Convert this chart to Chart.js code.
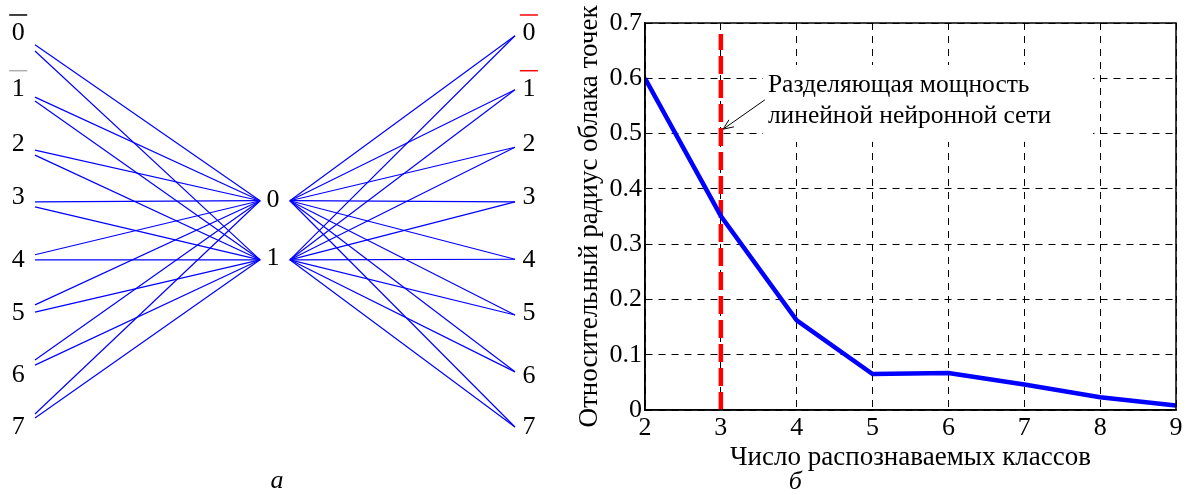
<!DOCTYPE html>
<html>
<head>
<meta charset="utf-8">
<script src="https://cdn.jsdelivr.net/npm/chart.js@4.4.0/dist/chart.umd.min.js"></script>
<style>
  html, body { margin: 0; padding: 0; background: #fff; }
  #wrap { position: relative; width: 1188px; height: 495px; overflow: hidden; }
  #netChart { position: absolute; left: 0; top: 0; }
  #radiusChart { position: absolute; left: 560px; top: 0; }
</style>
</head>
<body>
<div id="wrap">
  <canvas id="netChart" width="560" height="495"></canvas>
  <canvas id="radiusChart" width="628" height="495"></canvas>
</div>
<script>
// ---- panel a: network diagram (rows = node levels, columns 0 = inputs, 1 = outputs)
const inputLabels = ['0', '1', '2', '3', '4', '5', '6', '7'];
const hiddenLabels = ['0', '1'];
const outputLabels = ['0', '1', '2', '3', '4', '5', '6', '7'];
const inputLabelRows = [0, 0.99, 1.97, 2.91, 4.03, 4.97, 6.08, 7.0];
const outputLabelRows = [0, 0.99, 1.97, 2.91, 4.03, 4.97, 6.1, 7.0];
const hiddenLabelRows = [2.97, 4.0];
const inputRowsTo0 = [0.21, 1.14, 2.08, 3.0, 3.94, 4.83, 5.81, 6.77];
const inputRowsTo1 = [0.32, 1.21, 2.17, 3.09, 4.03, 4.96, 5.9, 6.84];
const hiddenRows = [2.98, 4.03];
const outputRows = [0.05, 1.01, 2.03, 3.0, 4.02, 5.01, 6.02, 7.0];
const inputCol = 0, hiddenInCol = 0.469, hiddenOutCol = 0.531, outputCol = 1;

// ---- panel b: cloud radius vs number of classes
const classCounts = [2, 3, 4, 5, 6, 7, 8, 9];
const cloudRadius = [0.6, 0.351, 0.162, 0.065, 0.067, 0.046, 0.023, 0.008];
const boundaryClass = 3;
const boundaryTop = 0.68;
const xTicks = [2, 3, 4, 5, 6, 7, 8, 9];
const yTicks = [0, 0.1, 0.2, 0.3, 0.4, 0.5, 0.6, 0.7];

const SERIF = '"Liberation Serif", "Times New Roman", serif';
const BLUE = '#0000ff';

// build edges of the diagram
const edges = [];
inputRowsTo0.forEach((r, i) => {
  edges.push([{ x: inputCol, y: r }, { x: hiddenInCol, y: hiddenRows[0] }]);
  edges.push([{ x: inputCol, y: inputRowsTo1[i] }, { x: hiddenInCol, y: hiddenRows[1] }]);
});
hiddenRows.forEach(h => {
  outputRows.forEach(r => edges.push([{ x: hiddenOutCol, y: h }, { x: outputCol, y: r }]));
});

const netLabels = {
  id: 'netLabels',
  afterDraw(chart) {
    const { ctx, scales: { x, y } } = chart;
    ctx.save();
    ctx.font = '26px ' + SERIF;
    ctx.fillStyle = '#000';
    ctx.textAlign = 'center';
    ctx.textBaseline = 'middle';
    const bar = (px, py, color) => {
      ctx.strokeStyle = color;
      ctx.lineWidth = 1.5;
      ctx.beginPath();
      ctx.moveTo(px - 9, py - 18);
      ctx.lineTo(px + 9, py - 18);
      ctx.stroke();
    };
    inputLabels.forEach((t, i) => {
      const px = x.getPixelForValue(-0.035), py = y.getPixelForValue(inputLabelRows[i]);
      ctx.fillText(t, px, py);
      if (i === 0) bar(px, py, '#000');
      if (i === 1) bar(px, py, '#b0b0b0');
    });
    hiddenLabels.forEach((t, i) => {
      ctx.fillText(t, x.getPixelForValue(0.496), y.getPixelForValue(hiddenLabelRows[i]));
    });
    outputLabels.forEach((t, i) => {
      const px = x.getPixelForValue(1.029), py = y.getPixelForValue(outputLabelRows[i]);
      ctx.fillText(t, px, py);
      if (i < 2) bar(px, py, '#ff0000');
    });
    ctx.font = 'italic 26px ' + SERIF;
    ctx.fillText('а', x.getPixelForValue(0.504), y.getPixelForValue(7.96));
    ctx.restore();
  }
};

new Chart(document.getElementById('netChart'), {
  type: 'scatter',
  data: {
    datasets: edges.map(e => ({
      data: e,
      showLine: true,
      borderColor: BLUE,
      borderWidth: 1.2,
      pointRadius: 0
    }))
  },
  options: {
    responsive: false,
    animation: false,
    layout: { padding: 0 },
    plugins: { legend: { display: false }, tooltip: { enabled: false } },
    scales: {
      x: { type: 'linear', display: false, min: -0.0729, max: 1.0938 },
      y: { type: 'linear', display: false, min: -0.586, max: 8.208, reverse: true }
    }
  },
  plugins: [netLabels]
});

// annotation box, text and arrow for panel b
const annotation = {
  id: 'annotation',
  beforeDatasetsDraw(chart) {
    const { ctx, scales: { x, y } } = chart;
    ctx.save();
    const bx0 = x.getPixelForValue(3.555), bx1 = x.getPixelForValue(7.905);
    const by0 = y.getPixelForValue(0.624), by1 = y.getPixelForValue(0.485);
    ctx.fillStyle = '#fff';
    ctx.fillRect(bx0, by0, bx1 - bx0, by1 - by0);
    ctx.fillStyle = '#000';
    ctx.font = '25.5px ' + SERIF;
    ctx.textAlign = 'left';
    ctx.textBaseline = 'alphabetic';
    ctx.fillText('Разделяющая мощность', x.getPixelForValue(3.62), y.getPixelForValue(0.575));
    ctx.fillText('линейной нейронной сети', x.getPixelForValue(3.62), y.getPixelForValue(0.52));
    // arrow
    const tx = x.getPixelForValue(3.03), ty = y.getPixelForValue(0.508);
    const sx = x.getPixelForValue(3.58), sy = y.getPixelForValue(0.561);
    ctx.strokeStyle = '#000';
    ctx.lineWidth = 1;
    ctx.beginPath();
    ctx.moveTo(sx, sy);
    ctx.lineTo(tx, ty);
    const ang = Math.atan2(ty - sy, tx - sx);
    [-0.4, 0.4].forEach(d => {
      ctx.moveTo(tx, ty);
      ctx.lineTo(tx - 11 * Math.cos(ang + d), ty - 11 * Math.sin(ang + d));
    });
    ctx.stroke();
    ctx.restore();
  },
  afterDraw(chart) {
    const { ctx, chartArea: a, scales: { x, y } } = chart;
    ctx.save();
    ctx.strokeStyle = '#000';
    ctx.lineWidth = 1.5;
    ctx.strokeRect(a.left, a.top, a.right - a.left, a.bottom - a.top);
    ctx.fillStyle = '#000';
    ctx.font = 'italic 26px ' + SERIF;
    ctx.textAlign = 'center';
    ctx.textBaseline = 'middle';
    ctx.fillText('б', x.getPixelForValue(3.98), y.getPixelForValue(-0.13));
    ctx.restore();
  }
};

new Chart(document.getElementById('radiusChart'), {
  type: 'scatter',
  data: {
    datasets: [
      {
        data: classCounts.map((c, i) => ({ x: c, y: cloudRadius[i] })),
        showLine: true,
        borderColor: BLUE,
        borderWidth: 4.5,
        pointRadius: 0
      },
      {
        data: [{ x: boundaryClass, y: 0 }, { x: boundaryClass, y: boundaryTop }],
        showLine: true,
        borderColor: '#ff0000',
        borderWidth: 4.5,
        borderDash: [18, 6],
        pointRadius: 0
      }
    ]
  },
  options: {
    responsive: false,
    animation: false,
    layout: { padding: { top: 23, right: 12, left: 0, bottom: 0 } },
    plugins: { legend: { display: false }, tooltip: { enabled: false } },
    scales: {
      x: {
        type: 'linear', min: 2, max: 9,
        afterBuildTicks: s => { s.ticks = xTicks.map(v => ({ value: v })); },
        afterFit: s => { s.height = 85; },
        grid: { color: '#000', lineWidth: 1, drawTicks: false },
        border: { display: true, color: '#000', width: 1.5, dash: [7, 6] },
        ticks: { color: '#000', padding: 3, font: { family: SERIF, size: 26 } },
        title: {
          display: true, text: 'Число распознаваемых классов', color: '#000',
          font: { family: SERIF, size: 27 }, padding: { top: 0, bottom: 21 }
        }
      },
      y: {
        type: 'linear', min: 0, max: 0.7,
        afterBuildTicks: s => { s.ticks = yTicks.map(v => ({ value: v })); },
        afterFit: s => { s.width = 85; },
        grid: { color: '#000', lineWidth: 1, drawTicks: false },
        border: { display: true, color: '#000', width: 1.5, dash: [7, 6] },
        ticks: { color: '#000', padding: 3, font: { family: SERIF, size: 26 }, callback: v => String(v) },
        title: {
          display: true, text: 'Относительный радиус облака точек', color: '#000',
          font: { family: SERIF, size: 27 }, padding: { top: 14, bottom: 0 }
        }
      }
    }
  },
  plugins: [annotation]
});
</script>
</body>
</html>
